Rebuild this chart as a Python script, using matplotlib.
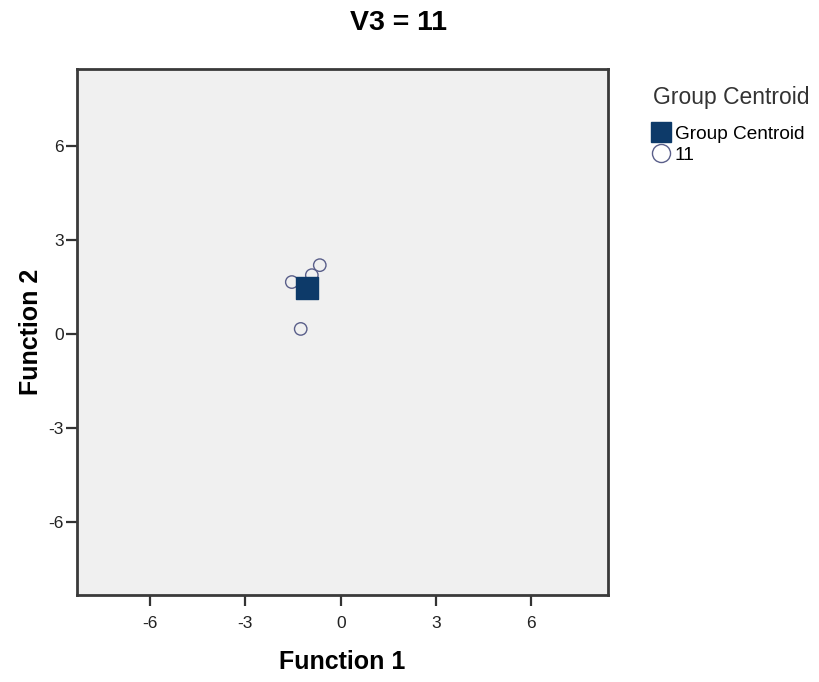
import matplotlib

matplotlib.use("Agg")
import matplotlib.pyplot as plt
from matplotlib.lines import Line2D

# discriminant scores for cases with V3 = 11
f1 = [-0.66, -1.54, -0.91, -1.26]
f2 = [2.20, 1.66, 1.88, 0.16]
centroid_f1 = [-1.06]
centroid_f2 = [1.47]
ticks = [-6, -3, 0, 3, 6]

plt.rcParams["font.family"] = ["Liberation Sans", "DejaVu Sans"]
plt.rcParams["axes.unicode_minus"] = False

fig = plt.figure(figsize=(8.19, 6.82), dpi=100)
ax = fig.add_axes([0.094, 0.1276, 0.648, 0.771])
ax.set_facecolor("#f0f0f0")

ax.scatter(f1, f2, s=80, facecolors="none", edgecolors="#5a5f8a", linewidths=1.0, zorder=3)
ax.scatter(centroid_f1, centroid_f2, s=255, marker="s", color="#0d3a69", zorder=4)

ax.set_xlim(-8.3, 8.4)
ax.set_ylim(-8.35, 8.47)
ax.set_xticks(ticks)
ax.set_yticks(ticks)
ax.tick_params(direction="out", length=8, width=1.6, color="#333333",
               labelsize=12.5, labelcolor="#222222")
ax.tick_params(axis="x", pad=7)
ax.tick_params(axis="y", pad=1.5)
for s in ax.spines.values():
    s.set_linewidth(2)
    s.set_color("#3a3a3a")

ax.set_xlabel("Function 1", fontsize=18, fontweight="bold", labelpad=14)
ax.set_ylabel("Function 2", fontsize=18, fontweight="bold", labelpad=4)
fig.text(0.486, 0.966, "V3 = 11", ha="center", va="center", fontsize=20.5, fontweight="bold")

handles = [
    Line2D([], [], marker="s", linestyle="none", markersize=14, color="#0d3a69"),
    Line2D([], [], marker="o", linestyle="none", markersize=13, markerfacecolor="none",
           markeredgecolor="#5a5f8a", markeredgewidth=1.0),
]
leg = fig.legend(handles, ["Group Centroid", "11"], title="Group Centroid",
                 loc="upper left", bbox_to_anchor=(0.797, 0.874), frameon=False,
                 fontsize=13.7, title_fontsize=16.5, handlelength=0.9, handletextpad=0.25,
                 labelspacing=0.2, borderaxespad=0, borderpad=0)
leg._legend_box.align = "left"
leg._legend_box.sep = 12
leg.get_title().set_color("#333333")

fig.savefig("out.png", dpi=100, facecolor="white")
